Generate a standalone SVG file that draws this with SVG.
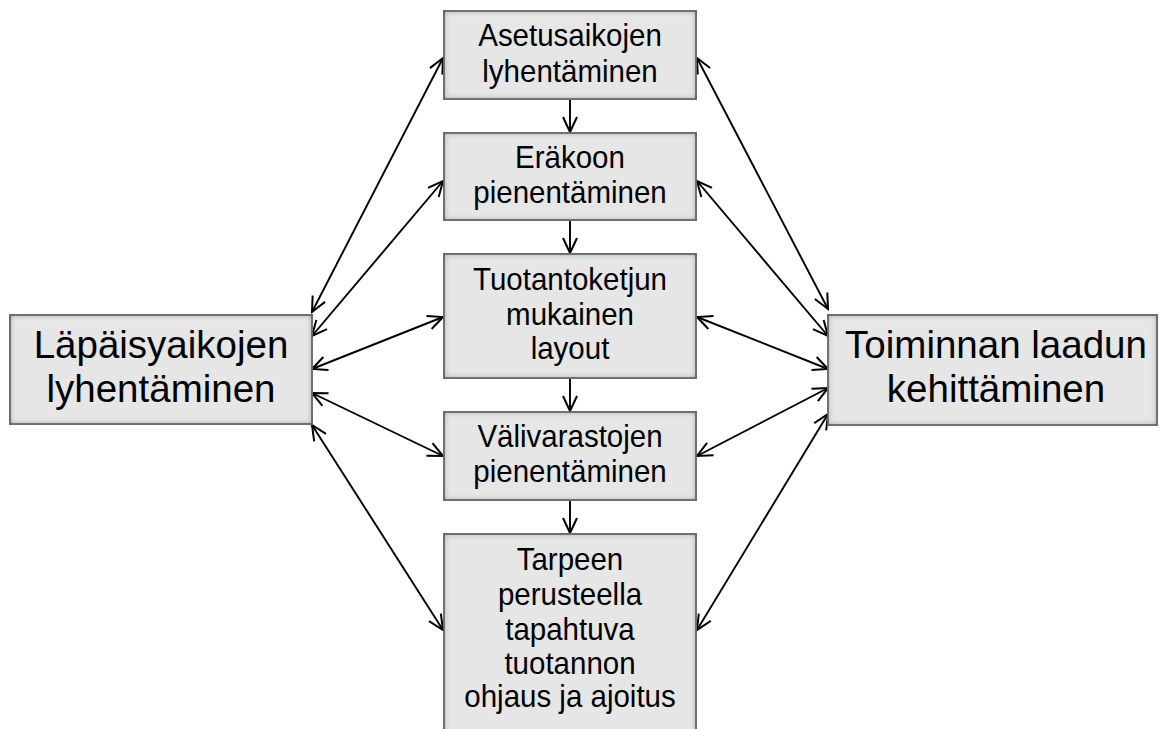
<svg xmlns="http://www.w3.org/2000/svg" width="1162" height="729" viewBox="0 0 1162 729">
  <defs>
    <!-- inset shadow giving the boxes a bevelled look -->
    <filter id="bevel" x="-5%" y="-5%" width="110%" height="110%">
      <feFlood flood-color="#5a5a5a" result="flood"/>
      <feComposite in="flood" in2="SourceAlpha" operator="out" result="outside"/>
      <feGaussianBlur in="outside" stdDeviation="3" result="blur"/>
      <feComposite in="blur" in2="SourceAlpha" operator="in" result="inner"/>
      <feMerge>
        <feMergeNode in="SourceGraphic"/>
        <feMergeNode in="inner"/>
      </feMerge>
    </filter>
    <marker id="arrow" viewBox="-17 -9 19 18" refX="0" refY="0" markerWidth="19" markerHeight="18" markerUnits="userSpaceOnUse" orient="auto-start-reverse">
      <path d="M-15,-7 L0,0 L-15,7" fill="none" stroke="#000" stroke-width="2" stroke-linejoin="miter"/>
    </marker>
  </defs>
  <style>
    .box { fill: #e6e6e6; stroke: #6f6f6f; stroke-width: 1.8; filter: url(#bevel); }
    .lbl { font-family: "Liberation Sans", Arial, sans-serif; font-size: 29.5px; fill: #000; text-anchor: middle; }
    .big { font-family: "Liberation Sans", Arial, sans-serif; font-size: 38.5px; fill: #000; text-anchor: middle; }
    .con { fill: none; stroke: #000; stroke-width: 1.9; }
  </style>

  <rect width="1162" height="729" fill="#fff"/>

  <!-- connectors -->
  <g id="connectors">
    <!-- chain down the middle column -->
    <line class="con" x1="570" y1="100" x2="570" y2="132" marker-end="url(#arrow)"/>
    <line class="con" x1="570" y1="221" x2="570" y2="253" marker-end="url(#arrow)"/>
    <line class="con" x1="570" y1="379" x2="570" y2="411" marker-end="url(#arrow)"/>
    <line class="con" x1="570" y1="501" x2="570" y2="533" marker-end="url(#arrow)"/>
    <!-- left goal to each measure -->
    <line class="con" x1="312" y1="312" x2="443" y2="58" marker-start="url(#arrow)" marker-end="url(#arrow)"/>
    <line class="con" x1="312" y1="336" x2="443" y2="181" marker-start="url(#arrow)" marker-end="url(#arrow)"/>
    <line class="con" x1="312" y1="369" x2="443" y2="317" marker-start="url(#arrow)" marker-end="url(#arrow)"/>
    <line class="con" x1="312" y1="393" x2="443" y2="456" marker-start="url(#arrow)" marker-end="url(#arrow)"/>
    <line class="con" x1="312" y1="425" x2="443" y2="630" marker-start="url(#arrow)" marker-end="url(#arrow)"/>
    <!-- each measure to right goal -->
    <line class="con" x1="697" y1="58" x2="828" y2="309" marker-start="url(#arrow)" marker-end="url(#arrow)"/>
    <line class="con" x1="697" y1="181" x2="828" y2="336" marker-start="url(#arrow)" marker-end="url(#arrow)"/>
    <line class="con" x1="697" y1="317" x2="828" y2="369" marker-start="url(#arrow)" marker-end="url(#arrow)"/>
    <line class="con" x1="697" y1="456" x2="828" y2="388" marker-start="url(#arrow)" marker-end="url(#arrow)"/>
    <line class="con" x1="697" y1="630" x2="828" y2="414" marker-start="url(#arrow)" marker-end="url(#arrow)"/>
  </g>

  <g id="lapaisyajat">
    <rect class="box" x="10" y="315" width="302" height="109"/>
    <text class="big" x="161" y="358">Läpäisyaikojen</text>
    <text class="big" x="161" y="402">lyhentäminen</text>
  </g>

  <g id="laatu">
    <rect class="box" x="828" y="315" width="329" height="110"/>
    <text class="big" x="996" y="358">Toiminnan laadun</text>
    <text class="big" x="996" y="402">kehittäminen</text>
  </g>

  <g id="asetusajat">
    <rect class="box" x="444" y="11" width="252" height="88"/>
    <text class="lbl" transform="translate(570 46) scale(1 1.08)">Asetusaikojen</text>
    <text class="lbl" transform="translate(570 82) scale(1 1.08)">lyhentäminen</text>
  </g>

  <g id="erakoko">
    <rect class="box" x="444" y="133" width="252" height="87"/>
    <text class="lbl" transform="translate(570 168) scale(1 1.08)">Eräkoon</text>
    <text class="lbl" transform="translate(570 203) scale(1 1.08)">pienentäminen</text>
  </g>

  <g id="layout">
    <rect class="box" x="444" y="254" width="252" height="124"/>
    <text class="lbl" transform="translate(570 290) scale(1 1.08)">Tuotantoketjun</text>
    <text class="lbl" transform="translate(570 325) scale(1 1.08)">mukainen</text>
    <text class="lbl" transform="translate(570 359) scale(1 1.08)">layout</text>
  </g>

  <g id="valivarastot">
    <rect class="box" x="444" y="412" width="252" height="88"/>
    <text class="lbl" transform="translate(570 447) scale(1 1.08)">Välivarastojen</text>
    <text class="lbl" transform="translate(570 482) scale(1 1.08)">pienentäminen</text>
  </g>

  <g id="ohjaus">
    <rect class="box" x="444" y="534" width="252" height="200"/>
    <text class="lbl" transform="translate(570 570) scale(1 1.08)">Tarpeen</text>
    <text class="lbl" transform="translate(570 605) scale(1 1.08)">perusteella</text>
    <text class="lbl" transform="translate(570 640) scale(1 1.08)">tapahtuva</text>
    <text class="lbl" transform="translate(570 674) scale(1 1.08)">tuotannon</text>
    <text class="lbl" transform="translate(570 707) scale(1 1.08)">ohjaus ja ajoitus</text>
  </g>
</svg>
